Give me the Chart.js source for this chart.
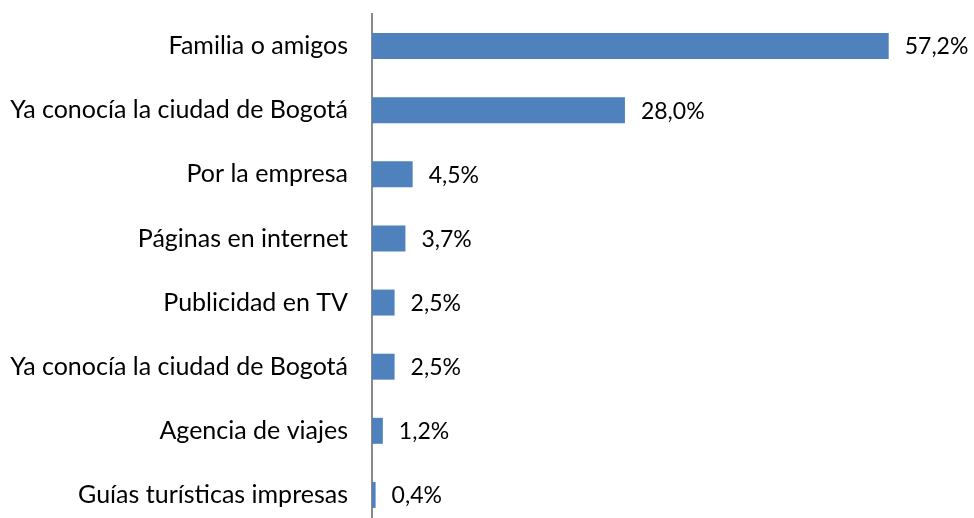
<!DOCTYPE html>
<html>
<head>
<meta charset="utf-8">
<script src="https://cdn.jsdelivr.net/npm/chart.js@4"></script>
<style>
  html, body { margin: 0; padding: 0; background: #fff; overflow: hidden; }
  canvas { display: block; }
</style>
</head>
<body>
<canvas id="chart" width="974" height="530"></canvas>
<script>
/* ── Data ── */
const CATEGORIES = [
  'Familia o amigos',
  'Ya conocía la ciudad de Bogotá',
  'Por la empresa',
  'Páginas en internet',
  'Publicidad en TV',
  'Ya conocía la ciudad de Bogotá',
  'Agencia de viajes',
  'Guías turísticas impresas',
];
const VALUES = [57.2, 28.0, 4.5, 3.7, 2.5, 2.5, 1.2, 0.4];

const FONT = { family: 'Lato', size: 25 };
const VALUE_FONT = { family: 'Lato', size: 23 };

/* ── Value labels ── */
const valueLabels = {
  id: 'valueLabels',
  afterDatasetsDraw(chart) {
    const ctx = chart.ctx;
    const meta = chart.getDatasetMeta(0);
    ctx.save();
    ctx.font = `${VALUE_FONT.size}px ${VALUE_FONT.family}`;
    ctx.fillStyle = '#000';
    ctx.textAlign = 'left';
    ctx.textBaseline = 'middle';
    meta.data.forEach((bar, i) => {
      ctx.fillText(VALUES[i].toFixed(1).replace('.', ',') + '%', bar.x + 16, bar.y + 1);
    });
    ctx.restore();
  },
};

new Chart(document.getElementById('chart'), {
  type: 'bar',
  data: {
    labels: CATEGORIES,
    datasets: [{
      data: VALUES,
      backgroundColor: '#4f81bd',
      barPercentage: 0.9,
      categoryPercentage: 0.45,
    }],
  },
  options: {
    indexAxis: 'y',
    responsive: false,
    animation: false,
    layout: { padding: { top: 14, bottom: 3, left: 0, right: 60 } },
    scales: {
      x: { display: false, min: 0, max: 60 },
      y: {
        afterFit: s => { s.width = 372; s.paddingTop = 0; s.paddingBottom = 0; },
        grid: { display: false, drawTicks: false },
        border: { color: '#898989', width: 2 },
        ticks: { color: '#000', font: FONT, padding: 24 },
      },
    },
    plugins: { legend: { display: false }, tooltip: { enabled: false } },
  },
  plugins: [valueLabels],
});
</script>
</body>
</html>
